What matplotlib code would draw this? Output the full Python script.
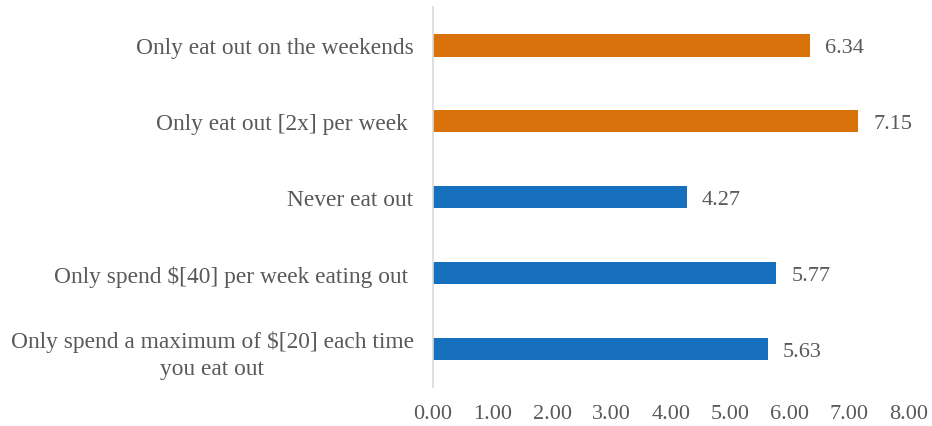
import matplotlib.pyplot as plt

# Options shown to respondents, bottom to top
options = [
    "Only spend a maximum of $[20] each time\nyou eat out",
    "Only spend $[40] per week eating out ",
    "Never eat out",
    "Only eat out [2x] per week ",
    "Only eat out on the weekends",
]
scores = [5.63, 5.77, 4.27, 7.15, 6.34]
bar_colors = ["#1770BE", "#1770BE", "#1770BE", "#D9720A", "#D9720A"]
x_ticks = [0, 1, 2, 3, 4, 5, 6, 7, 8]

plt.rcParams['font.family'] = ['Liberation Serif', 'DejaVu Serif']
grey = "#595959"
fs = 16

fig = plt.figure(figsize=(9.32, 4.27), dpi=100)
ax = fig.add_axes([0.4646, 0.0913, 0.5107, 0.8897])

pos = range(len(options))
bars = ax.barh(pos, scores, height=0.3, color=bar_colors)

# value labels just past the end of each bar
for b, v in zip(bars, scores):
    ax.annotate(f"{v:.2f}", (b.get_width(), b.get_y() + b.get_height() / 2),
                xytext=(15, -2), textcoords="offset pixels",
                va="center", ha="left", fontsize=fs, color=grey)

ax.set_xlim(0, 8)
ax.set_ylim(-0.5, 4.5)
ax.set_xticks(x_ticks)
ax.set_xticklabels([f"{t:.2f}" for t in x_ticks])
ax.set_yticks(list(pos))
ax.set_yticklabels(options, multialignment="center", linespacing=1.4)

for s in ["top", "right", "bottom"]:
    ax.spines[s].set_visible(False)
ax.spines["left"].set_color("#D9D9D9")
ax.spines["left"].set_linewidth(1.2)

ax.tick_params(axis="y", length=0, pad=14, labelsize=16.8, labelcolor=grey)
ax.tick_params(axis="x", length=0, pad=12, labelsize=fs, labelcolor=grey)

fig.savefig("out.png", dpi=100)
